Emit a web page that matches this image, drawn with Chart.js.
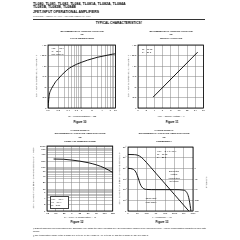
<!DOCTYPE html>
<html><head><meta charset="utf-8">
<script src="https://cdn.jsdelivr.net/npm/chart.js@4"></script>
<style>
html,body{margin:0;padding:0;background:#fff;}
body{width:240px;height:240px;position:relative;overflow:hidden;font-family:"Liberation Sans",Arial,sans-serif;color:#000;filter:grayscale(1);}
.t{position:absolute;white-space:nowrap;line-height:1;}
.c{transform:translate(-50%,-50%);}
.l{transform:translateY(-50%);}
.r{transform:translate(-50%,-50%) rotate(-90deg);}
.b{font-weight:bold;}
.ct{font-size:2.5px;font-weight:bold;}
.ax{font-size:2.3px;}
.lg{font-size:2.1px;}
.fg{font-size:2.9px;font-weight:bold;}
canvas{position:absolute;}
sub{font-size:75%;vertical-align:-0.25em;line-height:0;}
</style></head><body>
<!-- header -->
<div class="t l b" style="left:33px;top:4.5px;font-size:3.6px">TL080, TL081, TL082, TL084, TL081A, TL082A, TL084A</div>
<div class="t l b" style="left:33px;top:8.4px;font-size:3.6px">TL081B, TL082B, TL084B</div>
<div class="t l b" style="left:33px;top:12.6px;font-size:3.4px">JFET-INPUT OPERATIONAL AMPLIFIERS</div>
<div class="t l" style="left:33px;top:16.4px;font-size:2.1px;color:#555">SLOS081E – FEBRUARY 1977 – REVISED FEBRUARY 1999</div>
<div style="position:absolute;left:33px;top:18.6px;width:172px;height:1.5px;background:#333"></div>
<div class="t c b" style="left:119px;top:24px;font-size:3.2px">TYPICAL CHARACTERISTICS†</div>

<!-- Figure 10 -->
<div class="t c ct" style="left:82px;top:31.8px">MAXIMUM PEAK OUTPUT VOLTAGE</div>
<div class="t c ct" style="left:82px;top:35.3px">vs</div>
<div class="t c ct" style="left:82px;top:38.8px">LOAD RESISTANCE</div>
<div class="t r ax" style="left:35.5px;top:76px">V<sub>OM</sub> – Maximum Peak Output Voltage – V</div>
<div class="t c ax" style="left:82px;top:115.5px">R<sub>L</sub> – Load Resistance – kΩ</div>
<div class="t c fg" style="left:80px;top:122px">Figure 10</div>

<!-- Figure 11 -->
<div class="t c ct" style="left:171px;top:31.8px">MAXIMUM PEAK OUTPUT VOLTAGE</div>
<div class="t c ct" style="left:171px;top:35.3px">vs</div>
<div class="t c ct" style="left:171px;top:38.8px">SUPPLY VOLTAGE</div>
<div class="t r ax" style="left:127.5px;top:76px">V<sub>OM</sub> – Maximum Peak Output Voltage – V</div>
<div class="t c ax" style="left:171px;top:116px">V<sub>CC±</sub> – Supply Voltage – V</div>
<div class="t c fg" style="left:172px;top:122px">Figure 11</div>

<!-- Figure 12 -->
<div class="t c ct" style="left:80px;top:130.5px">LARGE-SIGNAL</div>
<div class="t c ct" style="left:80px;top:134.3px">DIFFERENTIAL VOLTAGE AMPLIFICATION</div>
<div class="t c ct" style="left:80px;top:138.2px">vs</div>
<div class="t c ct" style="left:80px;top:141.8px">FREE-AIR TEMPERATURE</div>
<div class="t r ax" style="left:33px;top:178px">A<sub>VD</sub> – Large-Signal Differential Voltage Amplification – V/mV</div>
<div class="t c ax" style="left:80px;top:217px">T<sub>A</sub> – Free-Air Temperature – °C</div>
<div class="t c fg" style="left:77px;top:222px">Figure 12</div>

<!-- Figure 13 -->
<div class="t c ct" style="left:164px;top:130.5px">LARGE-SIGNAL</div>
<div class="t c ct" style="left:164px;top:134.3px">DIFFERENTIAL VOLTAGE AMPLIFICATION</div>
<div class="t c ct" style="left:164px;top:138.2px">vs</div>
<div class="t c ct" style="left:164px;top:141.8px">FREQUENCY</div>
<div class="t r ax" style="left:118.5px;top:178px">A<sub>VD</sub> – Large-Signal Differential Voltage Amplification</div>
<div class="t r ax" style="left:205.5px;top:182px">Phase Shift</div>
<div class="t c ax" style="left:162px;top:217px">f – Frequency – Hz</div>
<div class="t c fg" style="left:162px;top:222px">Figure 13</div>

<!-- footnotes -->
<div style="position:absolute;left:33px;top:227px;width:174px;font-size:2.2px;line-height:3.2px">† Data at high and low temperatures are applicable only within the rated operating free-air temperature ranges of the various devices. A 12-pF compensation capacitor is used with TL080.</div>
<div style="position:absolute;left:33px;top:234px;width:174px;font-size:2.2px;line-height:3.2px">‡ The temperature range of the C suffix is 0°C to 70°C, the I suffix is –40°C to 85°C, and the M suffix is –55°C to 125°C.</div>

<canvas id="c1" width="80" height="72" style="left:38px;top:42px"></canvas>
<canvas id="c2" width="76" height="72" style="left:130px;top:42px"></canvas>
<canvas id="c3" width="79" height="74" style="left:37px;top:143px"></canvas>
<canvas id="c4" width="84" height="73" style="left:119px;top:144px"></canvas>

<!-- in-plot legends (drawn above canvases) -->
<div class="t l lg" style="left:51.5px;top:48.3px">V<sub>CC±</sub> = ±15 V</div>
<div class="t l lg" style="left:51.5px;top:51.3px">T<sub>A</sub> = 25°C</div>
<div class="t l lg" style="left:51.5px;top:54.3px">See Figure 2</div>

<div class="t l lg" style="left:142px;top:49px">R<sub>L</sub> = 10 kΩ</div>
<div class="t l lg" style="left:142px;top:52.3px">T<sub>A</sub> = 25°C</div>

<div style="position:absolute;left:50px;top:196px;width:16.5px;height:11px;background:#fff;border:0.4px solid #444;"></div>
<div class="t l lg" style="left:51px;top:198.5px">V<sub>CC±</sub> = ±15 V</div>
<div class="t l lg" style="left:51px;top:201.7px">V<sub>O</sub> = ±10 V</div>
<div class="t l lg" style="left:51px;top:205px">R<sub>L</sub> = 2 kΩ</div>

<div class="t l lg" style="left:157px;top:151px">V<sub>CC±</sub> = ±5 V to ±15 V</div>
<div class="t l lg" style="left:157px;top:154.2px">R<sub>L</sub> = 10 kΩ</div>
<div class="t l lg" style="left:157px;top:157.4px">T<sub>A</sub> = 25°C</div>
<div class="t c lg" style="left:174px;top:171px">Differential</div>
<div class="t c lg" style="left:174px;top:174.4px">Voltage</div>
<div class="t c lg" style="left:174px;top:177.8px">Amplification</div>
<div class="t c lg" style="left:174px;top:181.2px">(left scale)</div>
<div class="t c lg" style="left:151px;top:198px">Phase Shift</div>
<div class="t c lg" style="left:151px;top:201.5px">(right scale)</div>

<script>
// ---------- DATA ----------
// Figure 10: VOM vs load resistance (kΩ)
const loadRes   = [0.1, 0.105, 0.11, 0.12, 0.135, 0.15, 0.17, 0.2, 0.25, 0.3, 0.4, 0.5, 0.7, 1, 1.5, 2, 3, 4, 6, 8, 10];
const vomLoad   = [0, 2.0, 3.3, 4.2, 5.0, 5.6, 6.3, 6.9, 7.8, 8.4, 9.3, 9.8, 10.4, 10.9, 11.4, 11.7, 12.1, 12.3, 12.6, 12.8, 12.9];
const fig10Grid = [0.1,0.2,0.3,0.4,0.5,0.6,0.7,0.8,0.9,1,2,3,4,5,6,7,8,9,10];
const fig10XLabels = [0.1,0.2,0.4,0.7,1,2,4,7,10];
const vomTicks  = [0, 2.5, 5, 7.5, 10, 12.5, 15];

// Figure 11: VOM vs supply voltage
const supplyV    = [3.7, 14.6];
const vomSupply  = [2.6, 13.3];
const supplyTicks = [0, 2, 4, 6, 8, 10, 12, 14, 16];

// Figure 12: AVD vs free-air temperature
const tempC   = [-55, -25, 0, 25, 50, 75, 100, 125];
const avdTemp = [250, 245, 225, 200, 170, 135, 97, 60];
const tempTicks = [-75, -50, -25, 0, 25, 50, 75, 100, 125];
const avdGrid = [1,2,3,4,5,6,7,8,9,10,20,30,40,50,60,70,80,90,100,200,300,400,500,600,700,800,900,1000];
const avdLabels = [1,2,4,7,10,20,40,70,100,200,400,700,1000];

// Figure 13: AVD and phase vs frequency
const freqGain = [1, 5, 10, 17.5, 30, 50, 100, 1000, 10000, 100000, 1000000, 3500000];
const avdFreq  = [200000, 192000, 174000, 141000, 101000, 66000, 34500, 3500, 350, 35, 3.5, 1];
const freqPhase = [1, 2, 3, 5, 7, 10, 15, 20, 30, 50, 100, 1000, 10000, 100000, 1000000, 1500000, 2000000, 3000000, 4000000, 5000000, 6000000];
const phaseDeg  = [0, 1, 3, 8, 16, 30, 50, 65, 78, 86, 89, 90, 90, 90, 92, 95, 100, 115, 135, 158, 180];
const freqTicks = [1, 10, 100, 1000, 10000, 100000, 1000000, 10000000];
const freqLabels = ['1','10','100','1k','10k','100k','1M','10M'];
const gainTicks = [1, 10, 100, 1000, 10000, 100000, 1000000];
const gainLabels = ['1','10¹','10²','10³','10⁴','10⁵','10⁶'];
const phaseTicks = [-90, -45, 0, 45, 90, 135, 180];

// ---------- CHARTS ----------
const FONT = "'Liberation Sans', Arial, sans-serif";
const TICK = {size: 2.5, family: FONT};
const grid = () => ({color: '#808080', lineWidth: 0.5, drawTicks: false});
const frame = {id: 'frame', afterDraw(c) {
  const a = c.chartArea, x = c.ctx; x.save(); x.strokeStyle = '#000'; x.lineWidth = 0.8;
  x.strokeRect(a.left, a.top, a.right - a.left, a.bottom - a.top); x.restore(); }};
const pts = (xs, ys) => xs.map((v, i) => ({x: v, y: ys[i]}));
const setTicks = vals => s => { s.ticks = vals.map(v => ({value: v})); };
function line(data, extra) {
  return Object.assign({data, borderColor: '#000', borderWidth: 0.9, pointRadius: 0,
    cubicInterpolationMode: 'monotone', fill: false}, extra || {});
}
function base(pad) {
  return {responsive: false, animation: false, devicePixelRatio: 1, layout: {padding: pad},
    plugins: {legend: {display: false}, tooltip: {enabled: false}}};
}
const pm = v => v === 0 ? '0' : '±' + v;

new Chart(document.getElementById('c1'), {
  type: 'line', plugins: [frame],
  data: {datasets: [line(pts(loadRes, vomLoad))]},
  options: Object.assign(base({top: 2, right: 2, left: 0, bottom: 0}), {scales: {
    x: {type: 'logarithmic', min: 0.1, max: 10, afterBuildTicks: setTicks(fig10Grid),
        afterFit: s => { s.height = 6; }, grid: grid(), border: {display: false},
        ticks: {autoSkip: false, maxRotation: 0, font: TICK, color: '#000', padding: 1.2,
                callback: v => fig10XLabels.includes(v) ? String(v) : ''}},
    y: {type: 'linear', min: 0, max: 15, afterBuildTicks: setTicks(vomTicks),
        afterFit: s => { s.width = 10; }, grid: grid(), border: {display: false},
        ticks: {font: TICK, color: '#000', padding: 1.5, callback: pm}}
  }})
});

new Chart(document.getElementById('c2'), {
  type: 'line', plugins: [frame],
  data: {datasets: [line(pts(supplyV, vomSupply), {cubicInterpolationMode: 'default'})]},
  options: Object.assign(base({top: 2, right: 2, left: 0, bottom: 0}), {scales: {
    x: {type: 'linear', min: 0, max: 16, afterBuildTicks: setTicks(supplyTicks),
        afterFit: s => { s.height = 6; }, grid: grid(), border: {display: false},
        ticks: {autoSkip: false, maxRotation: 0, font: TICK, color: '#000', padding: 1.2}},
    y: {type: 'linear', min: 0, max: 15, afterBuildTicks: setTicks(vomTicks),
        afterFit: s => { s.width = 8; }, grid: grid(), border: {display: false},
        ticks: {font: TICK, color: '#000', padding: 1.5, callback: pm}}
  }})
});

new Chart(document.getElementById('c3'), {
  type: 'line', plugins: [frame],
  data: {datasets: [line(pts(tempC, avdTemp))]},
  options: Object.assign(base({top: 2, right: 2, left: 0, bottom: 0}), {scales: {
    x: {type: 'linear', min: -75, max: 125, afterBuildTicks: setTicks(tempTicks),
        afterFit: s => { s.height = 6; }, grid: grid(), border: {display: false},
        ticks: {autoSkip: false, maxRotation: 0, font: TICK, color: '#000', padding: 1.2,
                callback: v => v < 0 ? '–' + (-v) : String(v)}},
    y: {type: 'logarithmic', min: 1, max: 1000, afterBuildTicks: setTicks(avdGrid),
        afterFit: s => { s.width = 10; }, grid: grid(), border: {display: false},
        ticks: {autoSkip: false, font: TICK, color: '#000', padding: 1.5,
                callback: v => avdLabels.includes(v) ? String(v) : ''}}
  }})
});

new Chart(document.getElementById('c4'), {
  type: 'line', plugins: [frame],
  data: {datasets: [
    line(pts(freqGain, avdFreq), {yAxisID: 'y'}),
    line(pts(freqPhase, phaseDeg), {yAxisID: 'y2'})
  ]},
  options: Object.assign(base({top: 2, right: 0, left: 0, bottom: 0}), {scales: {
    x: {type: 'logarithmic', min: 1, max: 10000000, afterBuildTicks: setTicks(freqTicks),
        afterFit: s => { s.height = 6; }, grid: grid(), border: {display: false},
        ticks: {autoSkip: false, maxRotation: 0, font: TICK, color: '#000', padding: 1.2,
                callback: v => freqLabels[freqTicks.indexOf(v)] || ''}},
    y: {type: 'logarithmic', position: 'left', min: 1, max: 1000000, afterBuildTicks: setTicks(gainTicks),
        afterFit: s => { s.width = 9; }, grid: grid(), border: {display: false},
        ticks: {autoSkip: false, font: TICK, color: '#000', padding: 1.5,
                callback: v => gainLabels[gainTicks.indexOf(v)] || ''}},
    y2: {type: 'linear', position: 'right', reverse: true, min: -90, max: 180,
        afterBuildTicks: setTicks(phaseTicks),
        afterFit: s => { s.width = 10; }, grid: {display: false, drawTicks: false}, border: {display: false},
        ticks: {autoSkip: false, font: TICK, color: '#000', padding: 1.5,
                callback: v => v >= 0 ? v + '°' : ''}}
  }})
});
</script>
</body></html>
